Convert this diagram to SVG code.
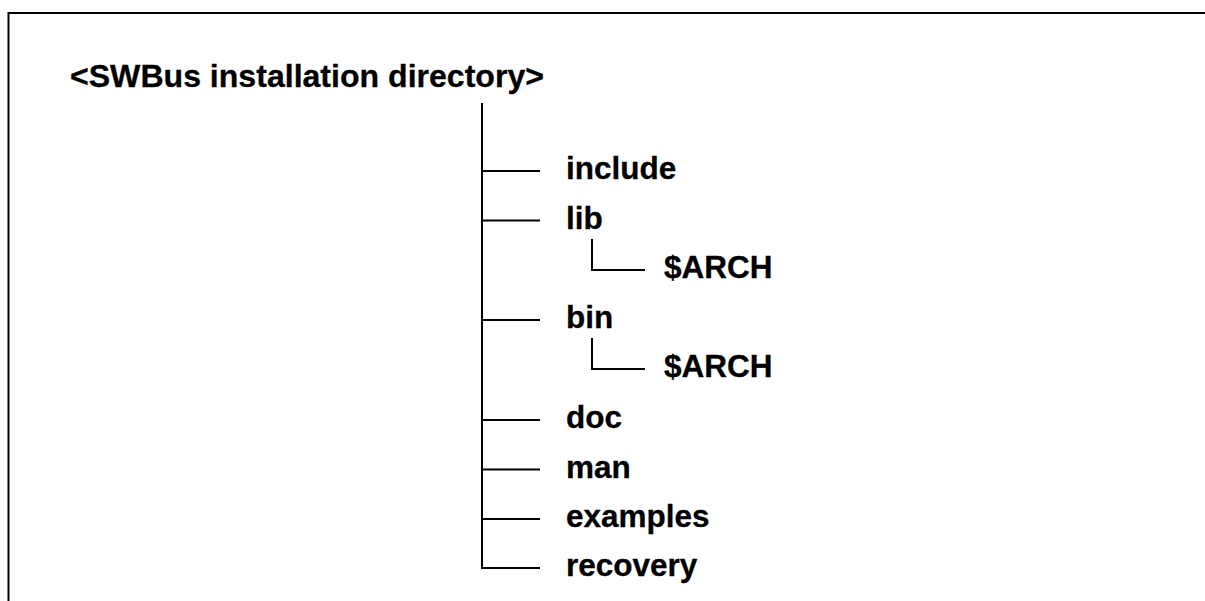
<svg xmlns="http://www.w3.org/2000/svg" width="1205" height="601" viewBox="0 0 1205 601">
<style>
  .t { font-family: "Liberation Sans", Arial, sans-serif; font-weight: bold; font-size: 31.5px; fill: #000; stroke: #000; stroke-width: 0.3; }
  .ln { stroke: #000; stroke-width: 2; fill: none; }
</style>
<rect width="1205" height="601" fill="#fff"/>
<path class="ln" d="M8.5,601 V13 H1205" stroke-width="2.2"/>
<g id="root"><text class="t" x="70" y="87" font-size="33.7" textLength="474" lengthAdjust="spacingAndGlyphs">&lt;SWBus installation directory&gt;</text></g>
<g id="connectors">
  <path class="ln" d="M482,103 V568 H540"/>
  <path class="ln" d="M482,171 H540"/>
  <path class="ln" d="M482,220.5 H540"/>
  <path class="ln" d="M482,320 H540"/>
  <path class="ln" d="M482,420 H540"/>
  <path class="ln" d="M482,469.5 H540"/>
  <path class="ln" d="M482,519 H540"/>
  <path class="ln" d="M592,239 V270 H645"/>
  <path class="ln" d="M592,338 V369 H645"/>
</g>
<g id="include"><text class="t" x="566" y="179">include</text></g>
<g id="lib"><text class="t" x="566" y="229">lib</text></g>
<g id="lib-arch"><text class="t" x="664" y="278">$ARCH</text></g>
<g id="bin"><text class="t" x="566" y="328">bin</text></g>
<g id="bin-arch"><text class="t" x="664" y="377">$ARCH</text></g>
<g id="doc"><text class="t" x="566" y="428">doc</text></g>
<g id="man"><text class="t" x="566" y="478">man</text></g>
<g id="examples"><text class="t" x="566" y="527">examples</text></g>
<g id="recovery"><text class="t" x="566" y="576">recovery</text></g>
</svg>
